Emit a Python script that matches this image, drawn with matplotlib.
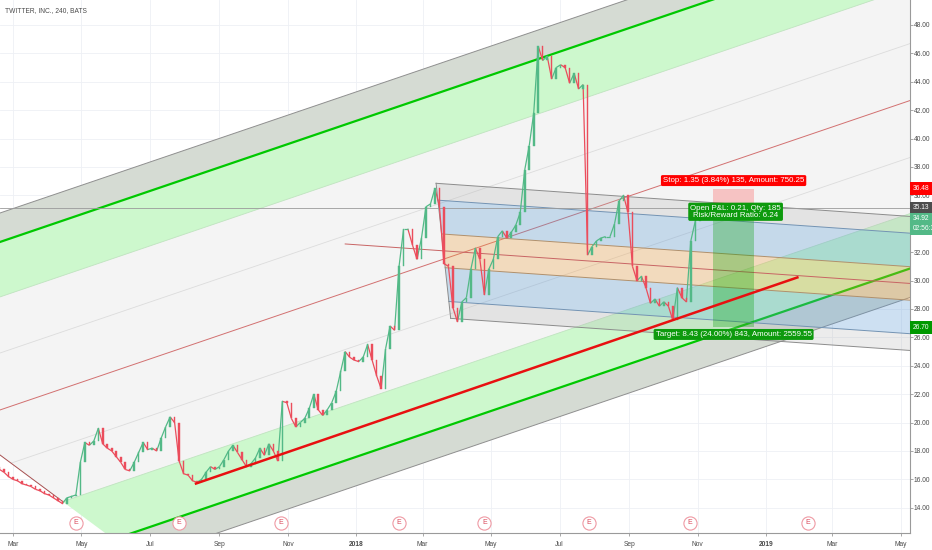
import matplotlib
matplotlib.use('Agg')
import matplotlib.pyplot as plt
import matplotlib.dates as mdates
import matplotlib.transforms as mtransforms
from matplotlib.patches import Polygon, Rectangle
from matplotlib.collections import LineCollection
import numpy as np
import pandas as pd

plt.rcParams['font.family'] = ['Liberation Sans', 'DejaVu Sans']

title = 'TWITTER, INC., 240, BATS'

# candles (thinned to one bar every 4 days), closes
bar_start = '2017-02-17'
bar_step = 4
first_open = 16.9
closes = [
    16.7, 16.5, 16.2, 16.0, 15.9, 15.7, 15.6, 15.5, 15.3, 15.2,
    15.0, 14.9, 14.7, 14.5, 14.3, 14.7, 14.8, 14.9, 17.2, 18.6,
    18.4, 18.7, 19.6, 18.5, 18.2, 18.0, 17.6, 17.2, 16.7, 16.6,
    17.2, 17.9, 18.6, 18.1, 18.2, 18.0, 18.9, 19.7, 20.4, 20.0,
    17.3, 16.4, 16.3, 15.9, 15.8, 16.0, 16.5, 16.9, 16.7, 16.9,
    17.4, 18.0, 18.4, 17.9, 17.4, 16.9, 17.1, 17.5, 18.2, 17.7,
    18.5, 18.0, 17.3, 21.5, 21.4, 20.3, 19.7, 20.0, 20.3, 21.0,
    22.0, 20.9, 20.5, 20.9, 21.4, 22.2, 23.6, 25.0, 24.6, 24.4,
    24.3, 24.6, 25.5, 24.4, 23.3, 22.4, 25.2, 26.8, 26.5, 31.0,
    33.6, 33.6, 32.5, 31.5, 33.0, 35.2, 35.4, 36.5, 35.2, 31.2,
    31.0, 28.1, 27.1, 28.5, 28.8, 30.8, 32.3, 31.5, 29.0, 30.8,
    31.5, 33.1, 33.5, 33.0, 33.4, 33.9, 34.8, 37.8, 39.5, 41.8,
    46.5, 45.5, 45.8, 44.2, 45.0, 45.2, 45.0, 43.9, 44.6, 43.5,
    43.8, 31.8, 32.4, 32.8, 33.0, 33.1, 33.1, 34.0, 35.6, 36.0,
    34.8, 31.0, 30.0, 30.3, 29.5, 28.4, 28.7, 28.2, 28.5, 28.2,
    27.2, 29.5, 28.8, 28.5, 32.8, 34.2, 34.92,
]

# pitchfork: median anchors, back line, level offsets
pf_dates = ['2017-02-17 10:00', '2019-05-09 07:00']
pf_prices = [20.89, 42.68]
pf_back_dates = ['2017-02-17 10:00', '2017-05-22']
pf_back_prices = [17.72, 12.23]
pf_faint = 4.01
pf_inner = 7.96
pf_green = 11.83
pf_outer = 13.87

# fib channel
fc_dates = ['2017-12-22', '2019-05-09 07:00']
fc_prices = [32.58, 29.80]
fc_half = 4.72
fc_left_top = '2018-03-13'
fc_left_bot = '2018-03-26'

# red trend line
trend_dates = ['2017-08-10', '2019-01-30']
trend_prices = [15.68, 30.25]

# short position tool
entry = 35.13
stop = 36.48
target = 26.70
last_price = 34.92
pos_dates = ['2018-11-14 19:00', '2018-12-21 10:00']
stop_text = 'Stop: 1.35 (3.84%) 135, Amount: 750.25'
pnl_text = 'Open P&L: 0.21, Qty: 185\nRisk/Reward Ratio: 6.24'
target_text = 'Target: 8.43 (24.00%) 843, Amount: 2559.55'
countdown = '02:56:32'

earn_dates = ['2017-04-26', '2017-07-27', '2017-10-26', '2018-02-08',
              '2018-04-25', '2018-07-27', '2018-10-25', '2019-02-07']

tick_dates = ['2017-03-01', '2017-05-01', '2017-07-01', '2017-09-01', '2017-11-01',
              '2018-01-01', '2018-03-01', '2018-05-01', '2018-07-01', '2018-09-01',
              '2018-11-01', '2019-01-01', '2019-03-01', '2019-05-01']
tick_labels = ['Mar', 'May', 'Jul', 'Sep', 'Nov', '2018', 'Mar', 'May', 'Jul', 'Sep',
               'Nov', '2019', 'Mar', 'May']
price_ticks = [14, 16, 18, 20, 22, 24, 26, 28, 30, 32, 34, 36, 38, 40, 42, 44, 46, 48]
hidden_ticks = [34]  # covered by the last-price label


def d2n(s):
    return mdates.date2num(pd.Timestamp(s))


up_col = '#53b987'
dn_col = '#eb4d5c'
txt_col = '#4a4a4a'
fs = 4.8

fig = plt.figure(figsize=(9.32, 5.5), dpi=100)
ax = fig.add_axes([0, 17/550, 910/932, 533/550])
x_lo, x_hi = d2n('2017-02-17 10:00'), d2n('2019-05-09 07:00')
ax.set_xlim(x_lo, x_hi)
ax.set_ylim(12.225, 49.76)
tR = x_hi + 10

# grid
tick_t = [d2n(t) for t in tick_dates]
for t in tick_t:
    ax.axvline(t, color='#eef0f5', lw=0.6, zorder=0)
for p in price_ticks:
    ax.axhline(p, color='#eef0f5', lw=0.6, zorder=0)

# ---- pitchfork ----
t0, t1 = d2n(pf_dates[0]), d2n(pf_dates[1])
pf_slope = (pf_prices[1] - pf_prices[0]) / (t1 - t0)
bt0, bt1 = d2n(pf_back_dates[0]), d2n(pf_back_dates[1])
back_slope = (pf_back_prices[1] - pf_back_prices[0]) / (bt1 - bt0)


def pf_line(t, off):
    return pf_prices[0] + pf_slope * (t - t0) + off


def pf_start(off):
    return (pf_back_prices[0] - back_slope * bt0 - pf_prices[0] + pf_slope * t0 - off) / (pf_slope - back_slope)


def pf_band(o1, o2, color):
    ta, tb = pf_start(o1), pf_start(o2)
    pts = [(ta, pf_line(ta, o1)), (tR, pf_line(tR, o1)), (tR, pf_line(tR, o2)), (tb, pf_line(tb, o2))]
    ax.add_patch(Polygon(pts, closed=True, facecolor=color, edgecolor='none', zorder=1))


def pf_draw(off, color, lw):
    ta = max(pf_start(off), x_lo - 50)
    ax.plot([ta, tR], [pf_line(ta, off), pf_line(tR, off)], color=color, lw=lw, zorder=2,
            solid_capstyle='butt')


pf_band(-pf_inner, pf_inner, '#f4f4f4')
pf_band(pf_inner, pf_green, '#cdf8cd')
pf_band(-pf_green, -pf_inner, '#cdf8cd')
pf_band(pf_green, pf_outer, '#d5dbd3')
pf_band(-pf_outer, -pf_green, '#d5dbd3')

for s in [1, -1]:
    pf_draw(s * pf_faint, '#dcdcdc', 0.6)
    pf_draw(s * pf_inner, '#bfe3bf', 0.6)
    pf_draw(s * pf_green, '#00c800', 1.6)
    pf_draw(s * pf_outer, '#8f8f8f', 0.7)
pf_draw(0, '#d27070', 0.7)
tb_end = pf_start(-pf_inner)
ax.plot([bt0, tb_end], [pf_back_prices[0], pf_back_prices[0] + back_slope * (tb_end - bt0)],
        color='#a65050', lw=0.7, zorder=2)

# ---- fib channel ----
c0t, c1t = d2n(fc_dates[0]), d2n(fc_dates[1])
fc_slope = (fc_prices[1] - fc_prices[0]) / (c1t - c0t)
lt, lb = d2n(fc_left_top), d2n(fc_left_bot)


def fc_line(t, f):
    return fc_prices[0] + fc_slope * (t - c0t) + f * fc_half


def fc_start(f):
    return lt + (1 - f) / 2 * (lb - lt)


def fc_band(f1, f2, color, alpha):
    ta, tb = fc_start(f1), fc_start(f2)
    pts = [(ta, fc_line(ta, f1)), (tR, fc_line(tR, f1)), (tR, fc_line(tR, f2)), (tb, fc_line(tb, f2))]
    ax.add_patch(Polygon(pts, closed=True, facecolor=color, alpha=alpha, edgecolor='none', zorder=2.2))


fc_band(0.75, 1, '#b4b4b4', 0.25)
fc_band(-1, -0.75, '#b4b4b4', 0.25)
fc_band(0.25, 0.75, '#5b9bd5', 0.3)
fc_band(-0.75, -0.25, '#5b9bd5', 0.3)
fc_band(-0.25, 0.25, '#f0a040', 0.3)

for f, col in [(1, '#8c8c8c'), (-1, '#8c8c8c'), (0.75, '#7393b3'), (-0.75, '#7393b3'),
               (0.25, '#b0906c'), (-0.25, '#b0906c')]:
    ts = fc_start(f)
    ax.plot([ts, tR], [fc_line(ts, f), fc_line(tR, f)], color=col, lw=0.7, zorder=2.4)
ax.plot([lt, lb], [fc_line(lt, 1), fc_line(lb, -1)], color='#8c8c8c', lw=0.7, zorder=2.4)
ax.plot([c0t, tR], [fc_prices[0], fc_line(tR, 0)], color='#c86464', lw=0.7, zorder=2.5)

# entry level line
ax.axhline(entry, color='#9a9a9a', lw=0.6, zorder=2.6)

# ---- position tool ----
p0, p1 = d2n(pos_dates[0]), d2n(pos_dates[1])
ax.add_patch(Rectangle((p0, entry), p1 - p0, stop - entry, facecolor='#ff0000', alpha=0.2,
                       edgecolor='none', zorder=3))
ax.add_patch(Rectangle((p0, target), p1 - p0, entry - target, facecolor='#00a000', alpha=0.3,
                       edgecolor='none', zorder=3))

# ---- candles: bodies plus a thin connecting trace so the dense 4h look is kept ----
c = np.array(closes)
o = np.r_[first_open, c[:-1]]
bar_t = mdates.date2num(pd.date_range(bar_start, periods=len(c), freq=f'{bar_step}D'))
up = c >= o
segs = [[(bar_t[i - 1], c[i - 1]), (bar_t[i], c[i])] for i in range(1, len(c))]
seg_cols = [up_col if up[i] else dn_col for i in range(1, len(c))]
ax.add_collection(LineCollection(segs, colors=seg_cols, linewidths=0.9, zorder=5))
ax.bar(bar_t[up], (c - o)[up], bottom=o[up], width=1.4, color=up_col, edgecolor=up_col,
       linewidth=0.3, zorder=5)
ax.bar(bar_t[~up], (c - o)[~up], bottom=o[~up], width=1.4, color=dn_col, edgecolor=dn_col,
       linewidth=0.3, zorder=5)

# red trend line
ax.plot([d2n(d) for d in trend_dates], trend_prices, color='#e81010', lw=1.8, zorder=6,
        solid_capstyle='butt')

# ---- labels on the position tool ----
pc = (p0 + p1) / 2
lbl = dict(ha='center', va='center', color='white', fontsize=5.7, zorder=12,
           textcoords='offset pixels')
ax.annotate(stop_text, xy=(pc, stop), xytext=(0, 8),
            bbox=dict(boxstyle='round,pad=0.25,rounding_size=0.2', fc='#ff0000', ec='none'), **lbl)
ax.annotate(pnl_text, xy=(pc, entry), xytext=(2, -4), linespacing=1.05,
            bbox=dict(boxstyle='round,pad=0.25,rounding_size=0.2', fc='#0d9a0d', ec='none'), **lbl)
ax.annotate(target_text, xy=(pc, target), xytext=(0, -7),
            bbox=dict(boxstyle='round,pad=0.25,rounding_size=0.2', fc='#0d9a0d', ec='none'), **lbl)

# ---- right price scale labels ----
trans_r = mtransforms.blended_transform_factory(ax.transAxes, ax.transData)
rlbl = dict(xycoords=trans_r, textcoords='offset pixels', ha='left', va='center',
            color='white', fontsize=fs, zorder=12, annotation_clip=False)
ax.annotate(f'{stop:.2f}', xy=(1.0, stop), xytext=(3, 0),
            bbox=dict(boxstyle='square,pad=0.4', fc='#ff0000', ec='none'), **rlbl)
ax.annotate(f'{entry:.2f}', xy=(1.0, entry), xytext=(3, 0),
            bbox=dict(boxstyle='square,pad=0.4', fc='#4d4d4d', ec='none'), **rlbl)
ax.annotate(f'{last_price:.2f}\n{countdown}', xy=(1.0, last_price), xytext=(3, -13),
            linespacing=1.5, bbox=dict(boxstyle='square,pad=0.4', fc=up_col, ec='none'), **rlbl)
ax.annotate(f'{target:.2f}', xy=(1.0, target), xytext=(3, 0),
            bbox=dict(boxstyle='square,pad=0.4', fc='#009900', ec='none'), **rlbl)

# ---- earnings markers ----
trans_b = mtransforms.blended_transform_factory(ax.transData, ax.transAxes)
for d in earn_dates:
    ax.plot([d2n(d)], [0.019], marker='o', ms=9.5, mfc='white', mec='#ef9aa4', mew=0.8,
            transform=trans_b, zorder=8, clip_on=False)
    ax.text(d2n(d), 0.019, 'E', transform=trans_b, ha='center', va='center', fontsize=5,
            color='#d9485a', zorder=9)

ax.text(5/910, 1 - 11/533, title, transform=ax.transAxes, fontsize=fs, color=txt_col,
        ha='left', va='center', zorder=12)

# ---- axes styling ----
ax.set_xticks(tick_t)
ax.set_xticklabels(tick_labels)
for lab in ax.get_xticklabels():
    if lab.get_text().isdigit():
        lab.set_fontweight('bold')
ax.yaxis.tick_right()
ax.set_yticks(price_ticks)
ax.set_yticklabels(['' if p in hidden_ticks else f'{p:.2f}' for p in price_ticks])
ax.tick_params(axis='x', length=2.5, width=0.6, color='#9a9a9a', labelsize=fs,
               labelcolor=txt_col, pad=3)
ax.tick_params(axis='y', length=2, width=0.6, color='#9a9a9a', labelsize=fs,
               labelcolor=txt_col, pad=0.6)
for side in ['left', 'top']:
    ax.spines[side].set_visible(False)
for side in ['right', 'bottom']:
    ax.spines[side].set_color('#9a9a9a')
    ax.spines[side].set_linewidth(0.8)

fig.savefig('out.png', dpi=100)
